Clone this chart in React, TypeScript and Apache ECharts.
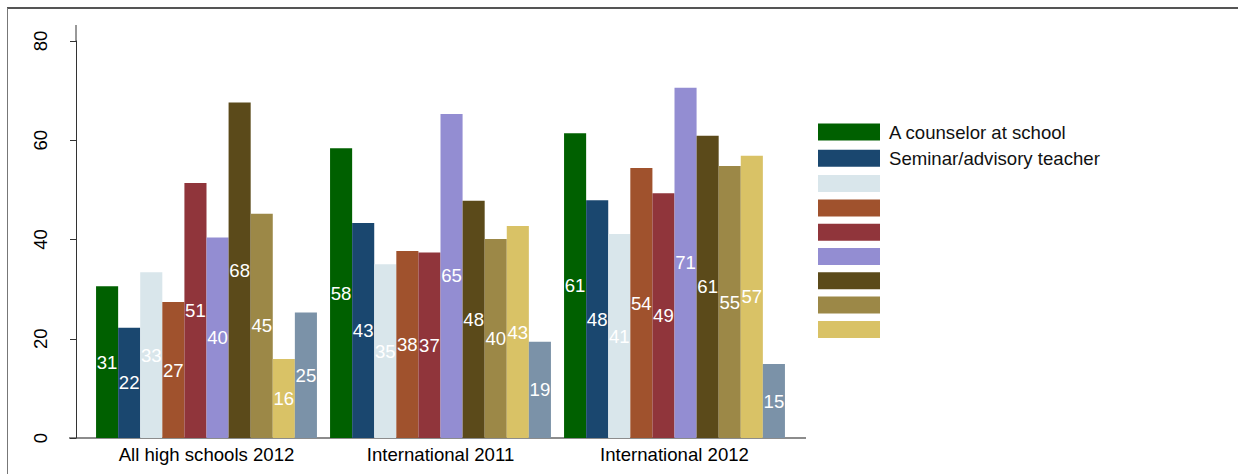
import React, { useEffect, useRef } from "react";
import * as echarts from "echarts";

const categories = ["All high schools 2012", "International 2011", "International 2012"];

const seriesNames = [
  "A counselor at school",
  "Seminar/advisory teacher",
  "Series 3",
  "Series 4",
  "Series 5",
  "Series 6",
  "Series 7",
  "Series 8",
  "Series 9",
  "Series 10",
];
const legendLabels = ["A counselor at school", "Seminar/advisory teacher", "", "", "", "", "", "", ""];

const s1 = [30.6, 58.4, 61.4];
const s2 = [22.2, 43.3, 47.9];
const s3 = [33.4, 35.0, 41.1];
const s4 = [27.4, 37.7, 54.4];
const s5 = [51.4, 37.4, 49.3];
const s6 = [40.4, 65.3, 70.6];
const s7 = [67.6, 47.8, 60.9];
const s8 = [45.2, 40.1, 54.8];
const s9 = [15.9, 42.7, 56.9];
const s10 = [25.3, 19.4, 14.9];
const seriesValues = [s1, s2, s3, s4, s5, s6, s7, s8, s9, s10];

const colors = [
  "#006000",
  "#1a476f",
  "#d9e6eb",
  "#a0522d",
  "#90353b",
  "#938dd2",
  "#5b4a1a",
  "#9c8847",
  "#d9c266",
  "#7b92a8",
];

const yTicks = [0, 20, 40, 60, 80];

export default function App() {
  const ref = useRef<HTMLDivElement>(null);
  useEffect(() => {
    if (!ref.current) return;
    const chart = echarts.init(ref.current, null, { renderer: "svg" });
    const font = "Liberation Sans, Arial, Helvetica, sans-serif";
    const fs = 18.6;
    const option: any = {
      animation: false,
      textStyle: { fontFamily: font },
      color: colors,
      grid: { left: 89.5, top: 41, width: 702, height: 397 },
      legend: {
        orient: "vertical",
        left: 813,
        top: 117.5,
        itemWidth: 62,
        itemHeight: 17,
        itemGap: 7.3,
        icon: "rect",
        selectedMode: false,
        data: seriesNames.slice(0, 9),
        formatter: (name: string) => legendLabels[seriesNames.indexOf(name)] ?? "",
        textStyle: { fontSize: fs, color: "#111", fontFamily: font, padding: [0, 0, 0, 4] },
      },
      xAxis: {
        type: "category",
        data: categories,
        axisLine: { show: false },
        axisTick: { show: false },
        axisLabel: { fontSize: fs, color: "#000", margin: 7, fontFamily: font },
      },
      yAxis: {
        type: "value",
        min: yTicks[0],
        max: yTicks[yTicks.length - 1],
        interval: 20,
        offset: 13.5,
        splitLine: { show: false },
        axisLine: { show: true, lineStyle: { color: "#333", width: 1 } },
        axisTick: { show: true, length: 6, lineStyle: { color: "#333" } },
        axisLabel: { rotate: 90, fontSize: fs, color: "#000", margin: 26, fontFamily: font },
      },
      series: seriesValues.map((vals, i) => ({
        name: seriesNames[i],
        type: "bar",
        data: vals,
        barGap: "0%",
        barCategoryGap: "5.6%",
        itemStyle: { color: colors[i] },
        label: {
          show: true,
          position: "inside",
          color: "#fff",
          fontSize: fs,
          fontFamily: font,
          formatter: (p: any) => String(Math.round(p.value)),
        },
      })),
      graphic: [
        { type: "line", shape: { x1: 7, y1: 8, x2: 1238, y2: 8 }, style: { stroke: "#555", lineWidth: 2 } },
        { type: "line", shape: { x1: 7.5, y1: 8, x2: 7.5, y2: 474 }, style: { stroke: "#777", lineWidth: 1 } },
        { type: "line", shape: { x1: 76, y1: 25, x2: 76, y2: 41 }, style: { stroke: "#333", lineWidth: 1 } },
        { type: "line", shape: { x1: 69, y1: 438, x2: 806, y2: 438 }, style: { stroke: "#666", lineWidth: 1.5 } },
      ],
    };
    chart.setOption(option);
    return () => chart.dispose();
  }, []);
  return (
    <div
      ref={ref}
      style={{ position: "fixed", left: 0, top: 0, width: 1238, height: 474, background: "#fff" }}
    />
  );
}
